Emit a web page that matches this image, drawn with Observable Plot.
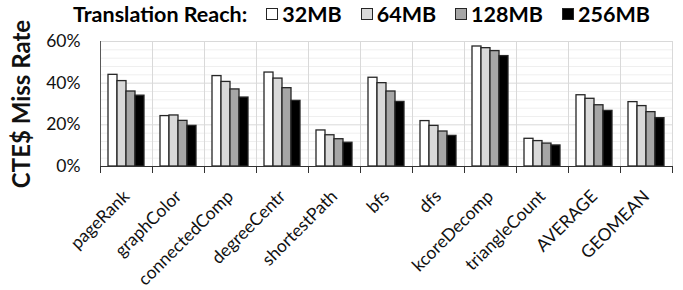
<!DOCTYPE html>
<html>
<head>
<meta charset="utf-8">
<script src="https://cdn.jsdelivr.net/npm/d3@7"></script>
<script src="https://cdn.jsdelivr.net/npm/@observablehq/plot@0.6"></script>
<style>
  html, body { margin: 0; padding: 0; background: #fff; }
  #wrap { position: relative; width: 683px; height: 290px; font-family: Lato, "Open Sans", sans-serif; }
  #legend { position: absolute; left: 73px; top: 1px; display: flex; align-items: center; font-weight: bold; font-size: 21.5px; color: #000; white-space: nowrap; }
  #legend .item { display: flex; align-items: center; margin-left: 19px; }
  #legend .item:first-of-type { margin-left: 15px; }
  #legend .sw { width: 12px; height: 12px; border: 1.3px solid #262626; margin-right: 4px; box-sizing: border-box; }
</style>
</head>
<body>
<div id="wrap">
  <div id="legend"></div>
  <div id="chart"></div>
</div>
<script>
const categories = ["pageRank","graphColor","connectedComp","degreeCentr","shortestPath","bfs","dfs","kcoreDecomp","triangleCount","AVERAGE","GEOMEAN"];
const series = ["32MB","64MB","128MB","256MB"];
const v32  = [44.0, 24.2, 43.4, 45.1, 17.3, 42.6, 21.8, 57.6, 13.3, 34.2, 30.9];
const v64  = [41.0, 24.5, 40.6, 42.2, 15.0, 40.0, 19.5, 56.8, 12.2, 32.5, 29.0];
const v128 = [36.0, 21.9, 37.0, 37.6, 13.1, 36.0, 16.8, 55.4, 11.0, 29.4, 26.1];
const v256 = [34.0, 19.5, 33.1, 31.5, 11.4, 31.0, 14.7, 53.0, 10.1, 26.7, 23.2];
const yTicks = [0, 20, 40, 60];
const minorTicks = [4, 8, 12, 16, 24, 28, 32, 36, 44, 48, 52, 56];
const fills = ["#ffffff", "#d9d9d9", "#a6a6a6", "#000000"];

const valuesBySeries = [v32, v64, v128, v256];
const rows = [];
categories.forEach((c, i) => series.forEach((s, j) => rows.push({cat: c, series: s, value: valuesBySeries[j][i]})));

// legend
const legend = document.getElementById("legend");
const lt = document.createElement("span");
lt.textContent = "Translation Reach:";
legend.appendChild(lt);
series.forEach((s, j) => {
  const it = document.createElement("span");
  it.className = "item";
  const sw = document.createElement("span");
  sw.className = "sw";
  sw.style.background = fills[j];
  it.appendChild(sw);
  const t = document.createElement("span");
  t.textContent = s;
  it.appendChild(t);
  legend.appendChild(it);
});

const first = categories[0];
const last = categories[categories.length - 1];

const chart = Plot.plot({
  width: 683,
  height: 290,
  marginLeft: 97,
  marginRight: 8,
  marginTop: 41,
  marginBottom: 124,
  style: {fontFamily: "Lato, 'Open Sans', sans-serif", color: "#111", background: "transparent"},
  fx: {domain: categories, padding: 0, label: null},
  x: {domain: series, paddingInner: 0, paddingOuter: 0.8, axis: null},
  y: {domain: [0, 60], axis: null},
  color: {domain: series, range: fills},
  marks: [
    Plot.ruleY(minorTicks, {stroke: "#efefef", strokeWidth: 1}),
    Plot.ruleY(yTicks.slice(1), {stroke: "#d9d9d9", strokeWidth: 1}),
    Plot.frame({anchor: "left", stroke: "#d9d9d9"}),
    Plot.frame({anchor: "right", stroke: "#d9d9d9", fx: () => last}),
    Plot.frame({anchor: "left", stroke: "#595959", fx: () => first}),
    Plot.frame({anchor: "left", stroke: "#333", insetTop: 125, insetBottom: -6}),
    Plot.frame({anchor: "right", stroke: "#333", insetTop: 125, insetBottom: -6, fx: () => last}),
    Plot.barY(rows, {fx: "cat", x: "series", y: "value", fill: "series", stroke: "#262626", strokeWidth: 1.3}),
    Plot.ruleY([0], {stroke: "#333", strokeWidth: 1.2}),
    Plot.axisY({ticks: yTicks, tickFormat: d => d + "%", tickSize: 0, tickPadding: 20, fontSize: 17.5, label: null}),
    Plot.axisY({ticks: [], label: "CTE$ Miss Rate", labelArrow: "none", labelAnchor: "center", labelOffset: 88, fontSize: 24, fontWeight: "bold"}),
    Plot.axisFx({anchor: "bottom", tickRotate: -45, tickSize: 0, tickPadding: 27, fontSize: 17.5, label: null})
  ]
});
document.getElementById("chart").appendChild(chart);
</script>
</body>
</html>
